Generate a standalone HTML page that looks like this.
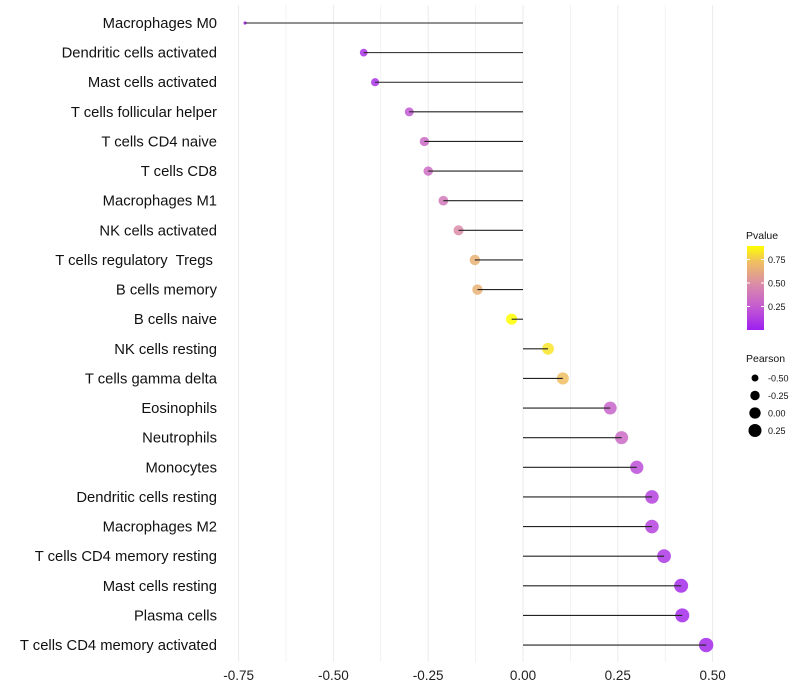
<!DOCTYPE html>
<html><head><meta charset="utf-8"><style>
body{margin:0;background:#fff;font-family:"Liberation Sans",sans-serif;}
svg{display:block}
text{white-space:pre}
</style></head><body>
<svg id="c" width="800" height="700"></svg>
<script>
const categories=["Macrophages M0","Dendritic cells activated","Mast cells activated","T cells follicular helper","T cells CD4 naive","T cells CD8","Macrophages M1","NK cells activated","T cells regulatory  Tregs ","B cells memory","B cells naive","NK cells resting","T cells gamma delta","Eosinophils","Neutrophils","Monocytes","Dendritic cells resting","Macrophages M2","T cells CD4 memory resting","Mast cells resting","Plasma cells","T cells CD4 memory activated"];
const pearson=[-0.733,-0.42,-0.39,-0.30,-0.26,-0.25,-0.21,-0.17,-0.127,-0.12,-0.03,0.066,0.105,0.23,0.26,0.30,0.34,0.34,0.372,0.417,0.42,0.483];
const pvalue=[0.01,0.08,0.08,0.24,0.32,0.34,0.4,0.5,0.68,0.68,0.95,0.85,0.74,0.3,0.33,0.2,0.15,0.15,0.1,0.05,0.05,0.04];
const xTicks=[-0.75,-0.5,-0.25,0,0.25,0.5];
const pTicks=[0.25,0.5,0.75];
const sizeTicks=[-0.5,-0.25,0,0.25];
const NS="http://www.w3.org/2000/svg";
const svg=document.getElementById('c');
function el(t,a,p){const e=document.createElementNS(NS,t);for(const k in a)e.setAttribute(k,a[k]);(p||svg).appendChild(e);return e;}
const x=v=>523+v*379.2;
const y=i=>23+i*29.62;
const r=v=>{const t=(v+0.733)/1.216;return 7.2*Math.sqrt(0.05+0.95*t);};
const stops=[[0,[157,31,240]],[0.25,[196,90,210]],[0.5,[218,140,168]],[0.75,[240,192,96]],[0.92,[255,255,0]]];
function col(p){for(let i=1;i<stops.length;i++){if(p<=stops[i][0]||i==stops.length-1){const a=stops[i-1],b=stops[i];let t=(p-a[0])/(b[0]-a[0]);t=Math.max(0,Math.min(1,t));const c=a[1].map((v,k)=>Math.round(v+(b[1][k]-v)*t));return `rgb(${c})`;}}}
for(let v=-0.75;v<=0.5001;v+=0.125){const g=el('line',{x1:x(v),x2:x(v),y1:5,y2:662,stroke:'#ebebeb','stroke-width':Math.abs(v*4-Math.round(v*4))<1e-6?1:0.6});
}
xTicks.forEach(v=>{const t=el('text',{x:x(v),y:680,'text-anchor':'middle','font-size':13.5,fill:'#222'});t.textContent=v.toFixed(2);
});
categories.forEach((c,i)=>{
const t=el('text',{x:217,y:y(i)+5,'text-anchor':'end','font-size':14.8,fill:'#111'});t.textContent=c;

const d=el('circle',{cx:x(pearson[i]),cy:y(i),r:r(pearson[i]),fill:col(pvalue[i]),'fill-opacity':0.85});

const l=el('line',{x1:x(0),x2:x(pearson[i]),y1:y(i),y2:y(i),stroke:'#222','stroke-width':1.1});

});
const defs=el('defs',{});const lg=el('linearGradient',{id:'g',x1:0,y1:1,x2:0,y2:0},defs);
stops.forEach(s=>el('stop',{offset:s[0]/0.92,'stop-color':col(s[0])},lg));
let t=el('text',{x:746,y:239,'font-size':10.5,fill:'#111'});t.textContent='Pvalue';

const bar=el('rect',{x:747,y:246,width:17,height:84,fill:'url(#g)'});

const py=p=>330-p*94;
pTicks.forEach(p=>{el('line',{x1:747,x2:750,y1:py(p),y2:py(p),stroke:'#fff'});el('line',{x1:761,x2:764,y1:py(p),y2:py(p),stroke:'#fff'});
const tt=el('text',{x:768,y:py(p)+3.5,'font-size':9,fill:'#111'});tt.textContent=p.toFixed(2);
});
t=el('text',{x:746,y:362,'font-size':10.5,fill:'#111'});t.textContent='Pearson';

sizeTicks.forEach((v,i)=>{const cy=378+i*17.5;const c=el('circle',{cx:755,cy:cy,r:r(v),fill:'#000'});

const tt=el('text',{x:768,y:cy+3.5,'font-size':9,fill:'#111'});tt.textContent=v.toFixed(2);
});
</script>
</body></html>
